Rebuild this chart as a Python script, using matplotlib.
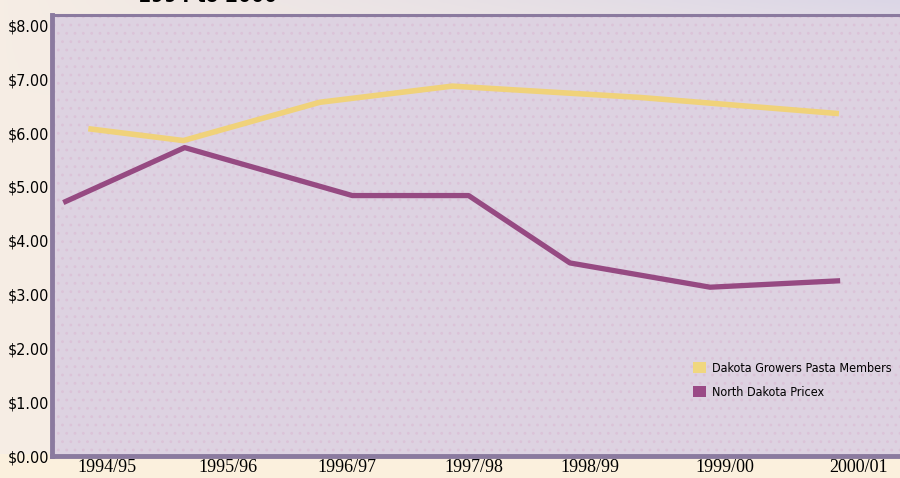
import matplotlib.pyplot as plt
import numpy as np
from matplotlib.patches import Patch, Rectangle

# season tick labels and where they sit (in season-index units)
seasons = ['1994/95', '1995/96', '1996/97', '1997/98', '1998/99', '1999/00', '2000/01']
season_pos = [0.0, 0.97, 1.92, 2.93, 3.86, 4.94, 6.01]

# Dakota Growers Pasta Members
dgp_x = [-0.15, 0.61, 1.70, 2.76, 4.26, 5.85]
dgp_y = [6.08, 5.86, 6.57, 6.87, 6.66, 6.36]

# North Dakota Pricex
nd_x = [-0.35, 0.62, 1.96, 2.89, 3.70, 4.82, 5.86]
nd_y = [4.71, 5.73, 4.84, 4.84, 3.59, 3.14, 3.26]

y_ticks = [0, 1, 2, 3, 4, 5, 6, 7, 8]

CREAM = np.array([0.965, 0.93, 0.895])
LAVENDER = np.array([0.86, 0.84, 0.905])
SPINE = '#8b7a9f'
YELLOW = '#f0d27a'
PURPLE = '#964a82'
NARROW = dict(fontfamily='DejaVu Sans', fontstretch='condensed')

fig = plt.figure(figsize=(9, 4.78), dpi=100)

# background gradient: cream, drifting to lavender towards the top right
bg = fig.add_axes([0, 0, 1, 1])
gx, gy = np.meshgrid(np.linspace(0, 1, 300), np.linspace(0, 1, 160))
t = (gx * np.clip(1 - gy * 4.8, 0, 1))[..., None]
img = CREAM * (1 - t) + LAVENDER * t
bg.imshow(img, aspect='auto', extent=[0, 1, 0, 1], origin='upper')
bg.add_patch(Rectangle((0, 0), 1, 0.05, color='#fbf0dd', lw=0))
bg.set_axis_off()

ax = fig.add_axes([0.0578, 0.045, 0.948, 0.9226])
ax.set_facecolor('#ddd2e1')
plt.rcParams['hatch.color'] = '#dbc3d8'
plt.rcParams['hatch.linewidth'] = 0.8
ax.add_patch(Rectangle((0, 0), 1, 1, transform=ax.transAxes, facecolor='none',
                       hatch='..', lw=0, zorder=0))

ax.plot(dgp_x, dgp_y, color=YELLOW, lw=4.0, solid_capstyle='butt', zorder=3)
ax.plot(nd_x, nd_y, color=PURPLE, lw=3.8, solid_capstyle='butt', zorder=4)

ax.set_xlim(-0.44, 6.38)
ax.set_ylim(0, 8.18)
ax.set_yticks(y_ticks)
ax.set_yticklabels([f'${v:.2f}' for v in y_ticks], fontsize=11.5, **NARROW)
ax.set_xticks(season_pos)
ax.set_xticklabels(seasons, fontfamily='Liberation Serif', fontsize=13)
ax.tick_params(axis='both', length=0, colors='black')
ax.tick_params(axis='y', pad=2)
ax.tick_params(axis='x', pad=2)

for side in ['left', 'bottom']:
    ax.spines[side].set_color(SPINE)
    ax.spines[side].set_linewidth(3.5)
ax.spines['top'].set_color(SPINE)
ax.spines['top'].set_linewidth(2.2)
ax.spines['right'].set_visible(False)

handles = [Patch(facecolor='#f0d77f', edgecolor='none', label='Dakota Growers Pasta Members'),
           Patch(facecolor='#9a4a86', edgecolor='none', label='North Dakota Pricex')]
fig.legend(handles=handles, loc='upper left', bbox_to_anchor=(0.770, 0.243),
           frameon=False, handlelength=1.05, handleheight=1.05, handletextpad=0.45,
           labelspacing=0.85, borderpad=0, borderaxespad=0,
           prop={'family': 'DejaVu Sans', 'stretch': 'condensed', 'size': 9.0})

# title line sitting mostly above the top edge
fig.text(0.153, 1 - 1.5 / 478, '1994 to 2000', fontsize=15, fontweight='bold',
         va='baseline', **NARROW)

fig.savefig('out.png', dpi=100)
